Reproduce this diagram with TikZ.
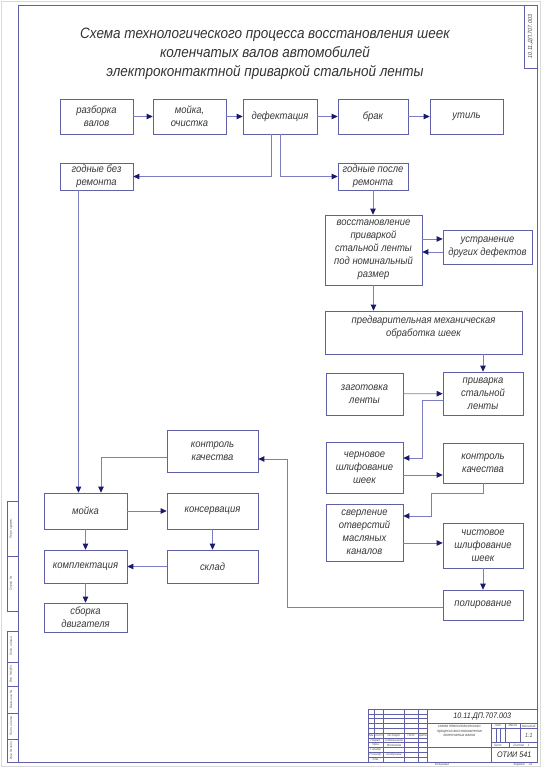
\documentclass[tikz,border=0pt]{standalone}
\usepackage{fontspec}
\setmainfont{Liberation Sans}[FakeStretch=0.9]
\usetikzlibrary{arrows.meta}
\definecolor{frameline}{RGB}{95,95,170}
\definecolor{linkline}{RGB}{125,125,195}
\definecolor{tipcolor}{RGB}{25,25,110}

\begin{document}
\begin{tikzpicture}[x=1pt, y=-1pt,
    stage/.style ={draw=frameline, line width=0.7pt, inner sep=1pt, align=center,
      font=\fontsize{10.5}{13}\selectfont\itshape, text=black!78},
    link/.style ={draw=linkline, line width=0.8pt,
      -{Triangle[length=6pt,width=5.5pt,color=tipcolor]}},
    tiny/.style ={font=\fontsize{3.2}{3.8}\selectfont\itshape, inner sep=0pt, text=black!70}]
   \useasboundingbox (0,0) rectangle (542,768);
   \draw[gray!30] (1.5,1.5) rectangle (540.5,766.5);
   \draw[frameline, line width=0.8pt] (18,5) rectangle (537,762);

   % title
   \node[font=\fontsize{15}{19}\selectfont\itshape, align=center, text=black!80] (title) at (265,54)
     {Схема технологического процесса восстановления шеек\\
      коленчатых валов автомобилей\\
      электроконтактной приваркой стальной ленты};

   % top row
   \node[stage, minimum width=73pt, minimum height=35pt] (razb)   at (96.5,116.5) {разборка\\валов};
   \node[stage, minimum width=73pt, minimum height=35pt] (mojka1) at (189.5,116.5) {мойка,\\очистка};
   \node[stage, minimum width=74pt, minimum height=35pt] (def)    at (280,116.5) {дефектация};
   \node[stage, minimum width=70pt, minimum height=35pt] (brak)   at (373,116.5) {брак};
   \node[stage, minimum width=73pt, minimum height=35pt] (util)   at (466.5,116.5) {утиль};
   \node[stage, minimum width=73pt, minimum height=27pt] (godbez) at (96.5,176.5) {годные без\\ремонта};
   \node[stage, minimum width=70pt, minimum height=27pt] (godpos) at (373,176.5) {годные после\\ремонта};

   % repair line
   \node[stage, minimum width=97pt, minimum height=70pt] (vosst) at (373.5,250)
     {восстановление\\приваркой\\стальной ленты\\под номинальный\\размер};
   \node[stage, minimum width=89pt, minimum height=34pt] (ustr)  at (487.5,247) {устранение\\других дефектов};
   \node[stage, minimum width=197pt, minimum height=43pt, text depth=12pt] (pred) at (423.5,332.5)
     {предварительная механическая\\обработка шеек};
   \node[stage, minimum width=77pt, minimum height=42pt] (zag)   at (364.5,394) {заготовка\\ленты};
   \node[stage, minimum width=80pt, minimum height=43pt] (priv)  at (483,393.5) {приварка\\стальной\\ленты};
   \node[stage, minimum width=77pt, minimum height=51pt] (chern) at (364.5,467.5) {черновое\\шлифование\\шеек};
   \node[stage, minimum width=80pt, minimum height=40pt] (kontr) at (483,463) {контроль\\качества};
   \node[stage, minimum width=77pt, minimum height=57pt] (sverl) at (364.5,532.5)
     {сверление\\отверстий\\масляных\\каналов};
   \node[stage, minimum width=80pt, minimum height=45pt] (chist) at (483,545.5) {чистовое\\шлифование\\шеек};
   \node[stage, minimum width=80pt, minimum height=30pt] (polir) at (483,605) {полирование};

   % assembly
   \node[stage, minimum width=91pt, minimum height=42pt] (kk)     at (212.5,451) {контроль\\качества};
   \node[stage, minimum width=83pt, minimum height=36pt] (mojka2) at (85.5,511) {мойка};
   \node[stage, minimum width=91pt, minimum height=36pt] (kons)   at (212.5,511) {консервация};
   \node[stage, minimum width=91pt, minimum height=33pt] (sklad)  at (212.5,566.5) {склад};
   \node[stage, minimum width=83pt, minimum height=33pt] (kompl)  at (85.5,566.5) {комплектация};
   \node[stage, minimum width=83pt, minimum height=29pt] (sborka) at (85.5,617.5) {сборка\\двигателя};

   \draw[link] (razb) to (mojka1);
   \draw[link] (mojka1) to (def);
   \draw[link] (def) to (brak);
   \draw[link] (brak) to (util);
   \draw[link] ([xshift=-9pt]def.south) |- (godbez.east);
   \draw[link] (def.south) |- (godpos.west);
   \draw[link] ([xshift=-18pt]godbez.south) -- ([xshift=-7pt]mojka2.north);
   \draw[link] ([yshift=-6pt]kk.west) -| ([xshift=15.5pt]mojka2.north);
   \draw[link] (mojka2) to (kons);
   \draw[link] (mojka2) to (kompl);
   \draw[link] (kons) to (sklad);
   \draw[link] (sklad) to (kompl);
   \draw[link] (kompl) to (sborka);

   \draw[link] (godpos.south) -- (godpos.south |- vosst.north);
   \draw[link] ([yshift=11pt]vosst.east) -- ([yshift=8pt]ustr.west);
   \draw[link] ([yshift=-5pt]ustr.west) -- ([yshift=-2pt]vosst.east);
   \draw[link] (vosst.south) -- (vosst.south |- pred.north);
   \draw[link] (pred.south -| priv.north) -- (priv.north);
   \draw[link] (zag) to (priv);
   \draw[link] ([yshift=-6.5pt]priv.west) -- ++(-20,0) |- ([yshift=9.5pt]chern.east);
   \draw[link] ([yshift=-7.5pt]chern.east) -- ([yshift=-12pt]kontr.west);
   \draw[link] (kontr.south) -- ++(0,10) -- ++(-52,0) |- ([yshift=16.5pt]sverl.east);
   \draw[link] ([yshift=-10.5pt]sverl.east) -- ([yshift=2.5pt]chist.west);
   \draw[link] (chist) to (polir);
   \draw[link] ([yshift=-2pt]polir.west) -- ++(-155,0) |- ([yshift=-8pt]kk.east);

   % stamp top right
   \draw[frameline, line width=0.6pt] (524,5) rectangle (537,68);
   \node[tiny, rotate=90, font=\fontsize{6}{7}\selectfont\itshape] (stamp) at (530.5,36.5) {10.11.ДП.707.003};

   % left strips
   \draw[frameline, line width=0.6pt] (7,501) rectangle (18,611) (7,556) -- (18,556);
   \draw[frameline, line width=0.6pt] (7,631) rectangle (18,762)
     (7,662) -- (18,662) (7,686) -- (18,686) (7,713) -- (18,713) (7,739) -- (18,739);
   \node[tiny, rotate=90] (s1) at (11,528.5) {Перв. примен.};
   \node[tiny, rotate=90] (s2) at (11,583.5) {Справ. №};
   \node[tiny, rotate=90] (s3) at (11,646.5) {Подп. и дата};
   \node[tiny, rotate=90] (s4) at (11,674) {Инв. № дубл.};
   \node[tiny, rotate=90] (s5) at (11,699.5) {Взам. инв. №};
   \node[tiny, rotate=90] (s6) at (11,726) {Подп. и дата};
   \node[tiny, rotate=90] (s7) at (11,750.5) {Инв. № подл.};

   % title block
   \begin{scope}[shift={(368,709)}, x=0.9135pt, y=-0.9636pt, frameline, line width=0.5pt]
     \draw (0,0) rectangle (185,55);
     \foreach \yy in {5,10,...,50} \draw (0,\yy) -- (65,\yy);
     \draw (7,0) -- (7,30);
     \foreach \xx in {17,40,55,65} \draw (\xx,0) -- (\xx,55);
     \draw (65,15) -- (185,15) (65,40) -- (135,40) (135,15) -- (135,55);
     \draw (135,20) -- (185,20) (135,35) -- (185,35) (135,40) -- (185,40);
     \draw (140,20) -- (140,35) (145,20) -- (145,35) (150,15) -- (150,35) (167,15) -- (167,35);
     \draw (155,35) -- (155,40);
     \node[tiny] (t1) at (3.5,27.5) {Изм.};
     \node[tiny] (t2) at (12,27.5) {Лист};
     \node[tiny] (t3) at (28.5,27.5) {№ докум.};
     \node[tiny] (t4) at (47.5,27.5) {Подп.};
     \node[tiny] (t5) at (60,27.5) {Дата};
     \node[tiny] (t6) at (8.5,32.5) {Разраб.};
     \node[tiny] (t7) at (28.5,32.5) {Сабельников};
     \node[tiny] (t8) at (8.5,37.5) {Пров.};
     \node[tiny] (t9) at (28.5,37.5) {Житников};
     \node[tiny] (t10) at (8.5,42.5) {Т.контр.};
     \node[tiny] (t11) at (8.5,47.5) {Н.контр.};
     \node[tiny] (t12) at (28.5,47.5) {Бойдушкин};
     \node[tiny] (t13) at (8.5,52.5) {Утв.};
     \node[tiny, font=\fontsize{8}{9}\selectfont\itshape, text=black!85] (code) at (125,7.5) {10.11.ДП.707.003};
     \node[tiny, align=center, font=\fontsize{4}{4.6}\selectfont\itshape] (name) at (100,23)
       {схема технологического\\процесса восстановления\\коленчатых валов};
     \node[tiny] (t14) at (142.5,17.5) {Лит.};
     \node[tiny] (t15) at (158.5,17.5) {Масса};
     \node[tiny] (t16) at (176,17.5) {Масштаб};
     \node[tiny, font=\fontsize{6}{7}\selectfont\itshape] (t17) at (176,27.5) {1:1};
     \node[tiny] (t18) at (142,37.5) {Лист};
     \node[tiny] (t19) at (168,37.5) {Листов \quad 1};
     \node[tiny, font=\fontsize{8}{9}\selectfont\itshape, text=black!85] (org) at (160,47.5) {ОТИИ 541};
   \end{scope}
   \node[tiny] (copy) at (442,765) {Копировал};
   \node[tiny] (fmt)  at (523,765) {Формат \quad А1};

 \end{tikzpicture}
\end{document}
